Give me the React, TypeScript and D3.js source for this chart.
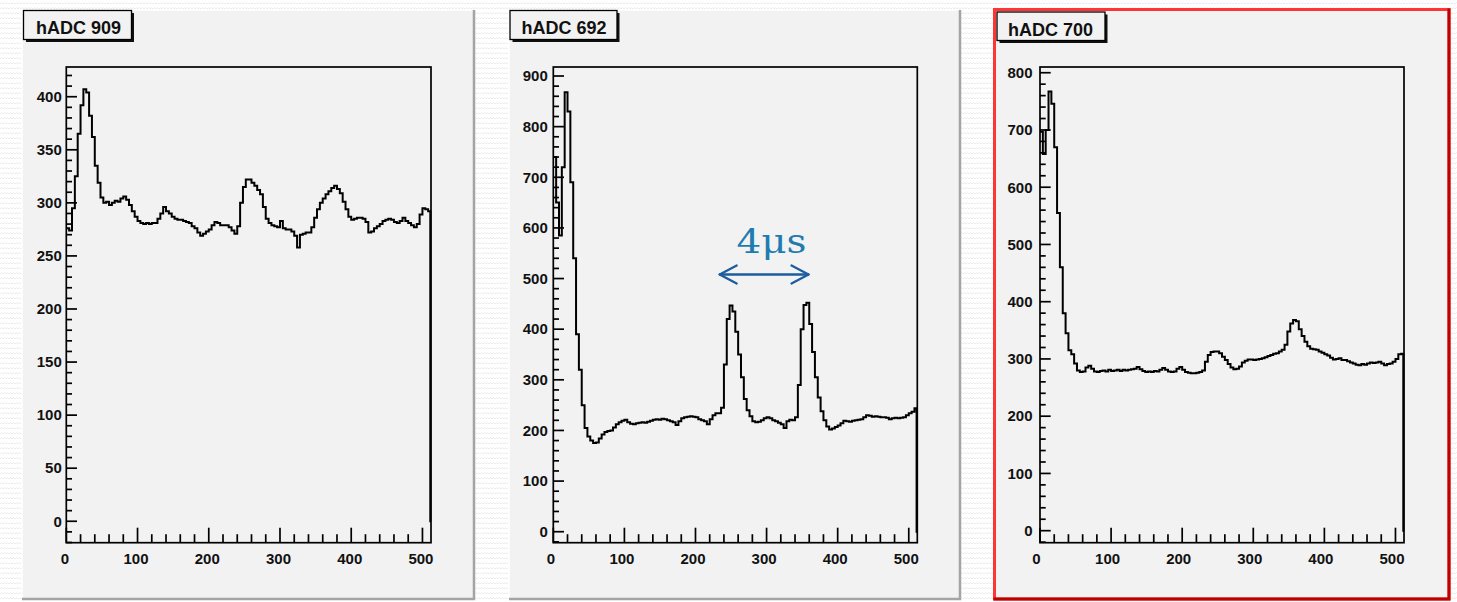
import React from "react";
import * as d3 from "d3";

// Histogram binning: 4-channel bins over 0..511, final channel 511..512 is empty.
const BIN_WIDTH = 4;
const LAST_EDGE = 511;
const AXIS_END = 512;
const TAIL_VALUE = 0;

const TITLES = ["hADC 909", "hADC 692", "hADC 700"];

const ADC909 = [
  276, 274, 295, 325, 365, 392, 407, 404, 382, 362,
  335, 319, 305, 300, 301, 298, 300, 302, 301, 304,
  306, 303, 298, 292, 287, 283, 281, 280, 281, 280,
  281, 281, 285, 290, 296, 292, 290, 287, 285, 284,
  284, 283, 282, 281, 278, 276, 272, 269, 271, 273,
  275, 279, 282, 281, 279, 279, 279, 277, 274, 271,
  278, 300, 315, 322, 322, 319, 316, 312, 308, 296,
  285, 281, 279, 278, 277, 283, 276, 275, 275, 273,
  269, 258, 270, 271, 272, 272, 277, 286, 294, 300,
  304, 308, 311, 314, 316, 313, 309, 301, 294, 287,
  284, 285, 286, 286, 285, 282, 272, 273, 276, 278,
  280, 283, 284, 285, 284, 282, 281, 283, 286, 283,
  281, 279, 277, 280, 289, 295, 294, 292,
];

const ADC692 = [
  740, 650, 585, 720, 868, 830, 690, 540, 390, 320,
  250, 205, 188, 180, 175, 176, 184, 192, 197, 199,
  200, 206, 212, 216, 219, 221, 216, 213, 212, 214,
  215, 216, 215, 217, 219, 221, 222, 221, 223, 222,
  220, 218, 216, 211, 218, 224, 226, 227, 228, 227,
  226, 222, 220, 218, 212, 222, 230, 234, 234, 245,
  330, 420, 447, 435, 395, 350, 305, 262, 240, 228,
  218, 216, 217, 220, 224, 226, 224, 220, 218, 215,
  212, 205, 218, 221, 220, 226, 290, 400, 448, 452,
  410, 355, 305, 265, 238, 220, 208, 202, 204, 207,
  210, 214, 219, 218, 217, 219, 220, 221, 222, 226,
  230, 229, 227, 228, 227, 226, 226, 225, 222, 224,
  225, 224, 225, 226, 230, 234, 237, 244,
];

const ADC700 = [
  697, 658, 700, 767, 746, 670, 555, 460, 380, 345,
  315, 308, 292, 280, 277, 278, 285, 288, 283, 278,
  277, 279, 280, 278, 281, 279, 280, 281, 279, 281,
  280, 281, 282, 283, 286, 282, 279, 277, 278, 277,
  279, 278, 281, 284, 281, 278, 277, 278, 283, 286,
  281, 277, 276, 275, 275, 276, 277, 280, 295, 307,
  312, 313, 313, 310, 304, 298, 291, 285, 282, 283,
  287, 294, 297, 299, 299, 298, 299, 300, 301, 303,
  305, 307, 309, 310, 313, 316, 325, 348, 362, 368,
  366, 352, 340, 330, 322, 318, 317, 316, 313, 311,
  308, 306, 302, 299, 300, 301, 298, 298, 296, 294,
  292, 290, 289, 291, 290, 292, 294, 293, 294, 295,
  292, 289, 291, 292, 295, 300, 308, 309,
];

const X_TICKS = [0, 100, 200, 300, 400, 500];
const Y_TICKS_909 = [0, 50, 100, 150, 200, 250, 300, 350, 400];
const Y_TICKS_692 = [0, 100, 200, 300, 400, 500, 600, 700, 800, 900];
const Y_TICKS_700 = [0, 100, 200, 300, 400, 500, 600, 700, 800];

// Peak-spacing annotation on hADC 692 (channel units / counts)
const SPACING_LABEL = "4μs";
const SPACING_FROM = 234;
const SPACING_TO = 359;
const SPACING_LEVEL = 508;
const SPACING_LABEL_X = 307;
const SPACING_LABEL_LEVEL = 551;

const FONT = "'Liberation Sans', Arial, Helvetica, sans-serif";
const PAD_FILL = "#f2f2f2";

type Layout = {
  canvas: [number, number, number, number];
  frame: [number, number, number, number];
  yDomain: [number, number];
  yMinorStep: number;
  box: [number, number, number, number];
  titleX: number;
  labelGap: number;
  labelShift: number;
  highlight: boolean;
};

const LAYOUTS: Layout[] = [
  {
    canvas: [22, 10, 451, 588],
    frame: [66.3, 67, 431, 542.7],
    yDomain: [-20.2, 428],
    yMinorStep: 10,
    box: [23.5, 10.5, 108, 29],
    titleX: 36,
    labelGap: 4.5,
    labelShift: -1.5,
    highlight: false,
  },
  {
    canvas: [509, 10, 450, 588],
    frame: [553.3, 67, 917.3, 542.7],
    yDomain: [-21.7, 917.8],
    yMinorStep: 20,
    box: [510, 10.5, 107, 29],
    titleX: 521.5,
    labelGap: 5.5,
    labelShift: -2.5,
    highlight: false,
  },
  {
    canvas: [994.5, 9.5, 454.5, 589.5],
    frame: [1040, 67, 1404, 542.7],
    yDomain: [-21, 810],
    yMinorStep: 20,
    box: [997, 12, 108, 28.5],
    titleX: 1008,
    labelGap: 7.5,
    labelShift: -3.5,
    highlight: true,
  },
];

type PanelProps = {
  title: string;
  values: number[];
  yTicks: number[];
  layout: Layout;
  children?: (x: d3.ScaleLinear<number, number>, y: d3.ScaleLinear<number, number>) => React.ReactNode;
};

function HistPanel({ title, values, yTicks, layout, children }: PanelProps) {
  const [cx, cy, cw, ch] = layout.canvas;
  const [fx0, fy0, fx1, fy1] = layout.frame;
  const x = d3.scaleLinear().domain([0, AXIS_END]).range([fx0, fx1]);
  const y = d3.scaleLinear().domain(layout.yDomain).range([fy1, fy0]);

  const points: [number, number][] = values.map((v, i) => [i * BIN_WIDTH, v] as [number, number]);
  points.push([LAST_EDGE, TAIL_VALUE], [AXIS_END, TAIL_VALUE]);
  const path = d3
    .line<[number, number]>()
    .x((d) => x(d[0]))
    .y((d) => y(d[1]))
    .curve(d3.curveStepAfter)(points) as string;

  const xMinor = d3.range(0, AXIS_END + 1, 20).filter((t) => t % 100 !== 0);
  const yMajorStep = yTicks[1] - yTicks[0];
  const [d0, d1] = layout.yDomain;
  const yMinor = d3
    .range(Math.ceil(d0 / layout.yMinorStep) * layout.yMinorStep, d1, layout.yMinorStep)
    .filter((t) => Math.abs(t % yMajorStep) > 1e-6);

  const [bx, by, bw, bh] = layout.box;

  return (
    <g>
      {/* pad */}
      <rect x={cx} y={cy} width={cw} height={ch} fill={PAD_FILL} />
      {layout.highlight ? (
        <g fill="none">
          <rect x={cx} y={cy} width={cw} height={ch} stroke="#ff3535" strokeWidth={3} />
          <path d={`M${cx + cw},${cy - 1} V${cy + ch} H${cx - 1}`} stroke="#c00000" strokeWidth={3} />
        </g>
      ) : (
        <g fill="none">
          <path d={`M${cx},${cy + ch} V${cy} H${cx + cw}`} stroke="#ffffff" strokeWidth={1.5} />
          <path d={`M${cx + cw + 1},${cy} V${cy + ch + 1} H${cx}`} stroke="#a4a4a4" strokeWidth={2.5} />
        </g>
      )}

      {/* title box */}
      <rect x={bx + 2.5} y={by + 2.5} width={bw} height={bh} fill="#111" />
      <rect x={bx} y={by} width={bw} height={bh} fill={PAD_FILL} stroke="#000" strokeWidth={1.3} />
      <text x={layout.titleX} y={by + 23.5} fontFamily={FONT} fontWeight="bold" fontSize={18} fill="#111">
        {title}
      </text>

      {/* frame */}
      <rect x={fx0} y={fy0} width={fx1 - fx0} height={fy1 - fy0} fill={PAD_FILL} stroke="#000" strokeWidth={1.7} />

      {/* axis ticks */}
      <g stroke="#000" strokeWidth={1.7}>
        {X_TICKS.map((t) => (
          <line key={`xM${t}`} x1={x(t)} x2={x(t)} y1={fy1} y2={fy1 - 15} />
        ))}
        {xMinor.map((t) => (
          <line key={`xm${t}`} x1={x(t)} x2={x(t)} y1={fy1} y2={fy1 - 8.5} />
        ))}
        {yTicks.map((t) => (
          <line key={`yM${t}`} x1={fx0} x2={fx0 + 10.7} y1={y(t)} y2={y(t)} />
        ))}
        {yMinor.map((t) => (
          <line key={`ym${t}`} x1={fx0} x2={fx0 + 5.7} y1={y(t)} y2={y(t)} />
        ))}
      </g>

      <g fontFamily={FONT} fontWeight="bold" fontSize={15} fill="#111">
        {X_TICKS.map((t) => (
          <text key={`xl${t}`} x={x(t) + layout.labelShift} y={563.5} textAnchor="middle">
            {t}
          </text>
        ))}
        {yTicks.map((t) => (
          <text key={`yl${t}`} x={fx0 - layout.labelGap} y={y(t) + 5.3} textAnchor="end">
            {t}
          </text>
        ))}
      </g>

      {/* histogram */}
      <path d={path} fill="none" stroke="#000" strokeWidth={2} strokeLinejoin="miter" />

      {children ? children(x, y) : null}
    </g>
  );
}

function SpacingArrow(x: d3.ScaleLinear<number, number>, y: d3.ScaleLinear<number, number>) {
  const x0 = x(SPACING_FROM);
  const x1 = x(SPACING_TO);
  const yy = y(SPACING_LEVEL);
  const hl = 17;
  const hh = 9;
  return (
    <g>
      <g stroke="#1d5c9f" strokeWidth={2.3} fill="none" strokeLinecap="round" strokeLinejoin="round">
        <line x1={x0} x2={x1} y1={yy} y2={yy} />
        <path d={`M${x0 + hl},${yy - hh} L${x0},${yy} L${x0 + hl},${yy + hh}`} />
        <path d={`M${x1 - hl},${yy - hh} L${x1},${yy} L${x1 - hl},${yy + hh}`} />
      </g>
      <text
        x={x(SPACING_LABEL_X)}
        y={y(SPACING_LABEL_LEVEL)}
        textAnchor="middle"
        fontFamily="'DejaVu Serif', 'Liberation Serif', serif"
        fontSize={33}
        fill="#1f7cb0"
        textLength={70}
        lengthAdjust="spacingAndGlyphs"
      >
        {SPACING_LABEL}
      </text>
    </g>
  );
}

export default function App() {
  return (
    <svg
      width={1457}
      height={602}
      viewBox="0 0 1457 602"
      style={{ position: "absolute", left: 0, top: 0, display: "block" }}
    >
      <defs>
        <pattern id="slideTexture" width={6} height={5} patternUnits="userSpaceOnUse">
          <path d="M0,4 Q1.5,1.2 3,4 Q4.5,1.2 6,4" fill="none" stroke="#e6e6e6" strokeWidth={0.8} />
        </pattern>
      </defs>
      <rect x={0} y={0} width={1457} height={602} fill="#ffffff" />
      <rect x={0} y={0} width={1457} height={602} fill="url(#slideTexture)" />

      <HistPanel title={TITLES[0]} values={ADC909} yTicks={Y_TICKS_909} layout={LAYOUTS[0]} />
      <HistPanel title={TITLES[1]} values={ADC692} yTicks={Y_TICKS_692} layout={LAYOUTS[1]}>
        {SpacingArrow}
      </HistPanel>
      <HistPanel title={TITLES[2]} values={ADC700} yTicks={Y_TICKS_700} layout={LAYOUTS[2]} />
    </svg>
  );
}
